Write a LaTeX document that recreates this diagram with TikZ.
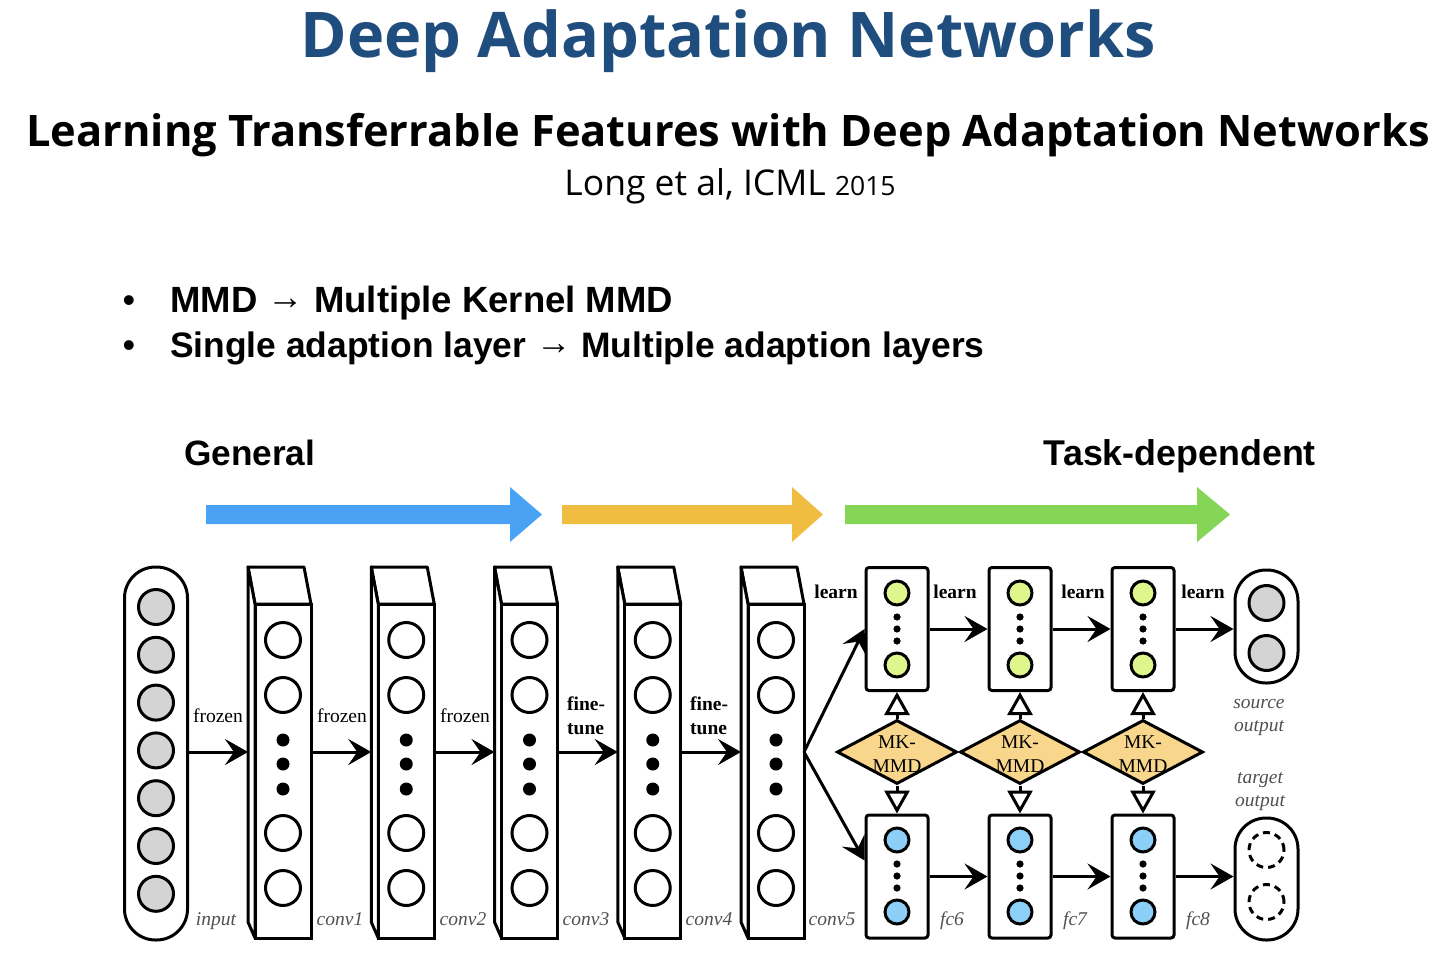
\documentclass[tikz,border=0pt]{standalone}
\usepackage{fontspec}
\setmainfont{Liberation Serif}
\newfontfamily\titlef{Open Sans}
\newfontfamily\arialf{Liberation Sans}
\newfontfamily\timesf{Liberation Serif}
\usetikzlibrary{arrows.meta,shapes.geometric,calc}
\definecolor{titleblue}{RGB}{31,78,126}
\definecolor{arrblue}{RGB}{74,162,245}
\definecolor{arryellow}{RGB}{240,189,65}
\definecolor{arrgreen}{RGB}{133,214,86}
\definecolor{nodegray}{RGB}{212,212,212}
\definecolor{nodegreen}{RGB}{222,246,140}
\definecolor{nodeblue}{RGB}{140,208,248}
\definecolor{mmdfill}{RGB}{248,214,140}
\definecolor{labgray}{RGB}{80,80,80}
\begin{document}
\begin{tikzpicture}[x=1pt,y=-1pt,
  lw/.style={line width=3pt},
  pill/.style={draw, lw, rounded corners=31pt, minimum width=63pt, inner sep=0pt},
  face/.style={draw, lw, fill=white, minimum width=56pt, minimum height=334pt, inner sep=0pt},
  fcbox/.style={draw, lw, rounded corners=3pt, minimum width=62pt, minimum height=123pt, inner sep=0pt},
  neuron/.style={circle, draw, lw, minimum size=35pt, inner sep=0pt},
  grayneuron/.style={neuron, fill=nodegray},
  smallneuron/.style={circle, draw, lw, minimum size=24pt, inner sep=0pt},
  dashneuron/.style={neuron, dash pattern=on 7pt off 5pt},
  mkmmd/.style={diamond, draw, lw, fill=mmdfill, minimum width=120pt, minimum height=64pt, inner sep=0pt},
  conn/.style={lw, -{Stealth[length=23pt,width=26pt,inset=9pt]}},
  openarr/.style={lw, -{Triangle[open, fill=white, length=23pt, width=25pt]}},
  difont/.style={font=\timesf\fontsize{19.5}{23}\selectfont},
  plainlab/.style={difont, anchor=base, inner sep=0pt},
  boldlab/.style={font=\timesf\bfseries\fontsize{19.5}{23}\selectfont, anchor=base, inner sep=0pt},
  itlab/.style={font=\timesf\itshape\fontsize{19.5}{23}\selectfont, text=labgray, anchor=base, inner sep=0pt}
]
\useasboundingbox (0,0) rectangle (1452,980);

% ---- titles ----
\node[anchor=base, inner sep=0pt, text=titleblue, font=\titlef\bfseries\fontsize{63}{70}\selectfont] (title) at (728,57) {Deep Adaptation Networks};
\node[anchor=base, inner sep=0pt, font=\titlef\bfseries\fontsize{43.4}{48}\selectfont] (subtitle) at (728,146) {Learning Transferrable Features with Deep Adaptation Networks};
\node[anchor=base, inner sep=0pt, font=\titlef\fontsize{35.5}{38}\selectfont] (authors) at (730,195) {Long et al, ICML {\fontsize{26.5}{28}\selectfont 2015}};

% ---- bullets ----
\node[anchor=base, inner sep=0pt, font=\arialf\fontsize{36}{40}\selectfont] (dot1) at (129,312) {•};
\node[anchor=base, inner sep=0pt, font=\arialf\fontsize{36}{40}\selectfont] (dot2) at (129,357) {•};
\node[anchor=base west, inner sep=0pt, font=\arialf\bfseries\fontsize{36.5}{40}\selectfont] (bul1) at (170,312) {MMD \raisebox{3pt}{→} Multiple Kernel MMD};
\node[anchor=base west, inner sep=0pt, font=\arialf\bfseries\fontsize{35.4}{40}\selectfont] (bul2) at (170,357) {Single adaption layer \raisebox{3pt}{→} Multiple adaption layers};

% ---- General / Task-dependent ----
\node[anchor=base west, inner sep=0pt, font=\arialf\bfseries\fontsize{35.2}{40}\selectfont] (gen) at (184,465) {General};
\node[anchor=base east, inner sep=0pt, font=\arialf\bfseries\fontsize{35.8}{40}\selectfont] (task) at (1316,465) {Task-dependent};

% ---- big arrows ----
\fill[arrblue] (206,505) -- (510,505) -- (510,487) -- (542,514.5) -- (510,542) -- (510,524) -- (206,524) -- cycle;
\fill[arryellow] (562,505) -- (792,505) -- (792,487) -- (823,514.5) -- (792,542) -- (792,524) -- (562,524) -- cycle;
\fill[arrgreen] (845,505) -- (1197,505) -- (1197,487) -- (1230,514.5) -- (1197,542) -- (1197,524) -- (845,524) -- cycle;

% ---- input layer ----
\node[pill, minimum height=373pt] (in) at (156,753.5) {};
\foreach \k in {0,...,6}{
  \node[grayneuron] (in\k) at (156,{607+47.8*\k}) {};
}
\coordinate (ine) at (188,752);

% ---- conv layers ----
\foreach \i in {1,...,5}{
  \pgfmathsetmacro\fl{255+123.25*(\i-1)}
  \pgfmathsetmacro\cx{\fl+28}
  \draw[lw, fill=white, line join=round] (\fl-7,567) -- (\fl+49,567) -- (\fl+56,604) -- (\fl,604) -- cycle;
  \draw[lw, fill=white, line join=round] (\fl-7,567) -- (\fl-7,922) -- (\fl,938) -- (\fl,604) -- cycle;
  \node[face] (c\i) at (\cx,771) {};
  \node[neuron] (c\i a) at (\cx,640) {};
  \node[neuron] (c\i b) at (\cx,695) {};
  \node[neuron] (c\i c) at (\cx,833) {};
  \node[neuron] (c\i d) at (\cx,888) {};
  \fill (\cx,740) circle (6.5pt) (\cx,764) circle (6.5pt) (\cx,789) circle (6.5pt);
  \coordinate (c\i w) at (\fl-7,752);
  \coordinate (c\i e) at (\fl+56,752);
}

\draw[conn] (ine) -- (c1w);
\draw[conn] (c1e) -- (c2w);
\draw[conn] (c2e) -- (c3w);
\draw[conn] (c3e) -- (c4w);
\draw[conn] (c4e) -- (c5w);

\node[plainlab] (fz1) at (218,722) {frozen};
\node[plainlab] (fz2) at (342,722) {frozen};
\node[plainlab] (fz3) at (465,722) {frozen};
\node[boldlab, anchor=base west] (ft1a) at (567,710) {fine-};
\node[boldlab, anchor=base west] (ft1b) at (567,734) {tune};
\node[boldlab, anchor=base west] (ft2a) at (690,710) {fine-};
\node[boldlab, anchor=base west] (ft2b) at (690,734) {tune};

\node[itlab] (linput) at (216,925) {input};
\node[itlab] (lc1) at (340,925) {conv1};
\node[itlab] (lc2) at (463,925) {conv2};
\node[itlab] (lc3) at (586,925) {conv3};
\node[itlab] (lc4) at (709,925) {conv4};
\node[itlab] (lc5) at (832,925) {conv5};

% ---- fc layers ----
\foreach \j/\nm in {0/6,1/7,2/8}{
  \pgfmathsetmacro\cx{897+123*\j}
  \node[fcbox] (ft\j) at (\cx,629) {};
  \node[fcbox] (fb\j) at (\cx,876.5) {};
  \node[smallneuron, fill=nodegreen] (ft\j a) at (\cx,593) {};
  \node[smallneuron, fill=nodegreen] (ft\j b) at (\cx,665) {};
  \fill (\cx,617) circle (3.6pt) (\cx,629) circle (3.6pt) (\cx,641) circle (3.6pt);
  \node[smallneuron, fill=nodeblue] (fb\j a) at (\cx,840) {};
  \node[smallneuron, fill=nodeblue] (fb\j b) at (\cx,912) {};
  \fill (\cx,864) circle (3.6pt) (\cx,876) circle (3.6pt) (\cx,888) circle (3.6pt);
  \node[mkmmd] (d\j) at (\cx,752) {};
  \node[plainlab] (d\j t1) at (\cx,748) {MK-};
  \node[plainlab] (d\j t2) at (\cx,772) {MMD};
  \draw[openarr] (d\j.north) -- (ft\j.south);
  \draw[openarr] (d\j.south) -- (fb\j.north);
  \node[itlab] (lfc\j) at ({952+123*\j},925) {fc\nm};
}

% ---- outputs ----
\node[pill, minimum height=113pt] (src) at (1266.5,626.5) {};
\node[grayneuron] (src1) at (1266.5,603) {};
\node[grayneuron] (src2) at (1266.5,653) {};
\node[pill, minimum height=122pt] (tgt) at (1266.5,879) {};
\node[dashneuron] (tgt1) at (1266.5,850) {};
\node[dashneuron] (tgt2) at (1266.5,902) {};

\node[itlab] (ls1) at (1259,708) {source};
\node[itlab] (ls2) at (1259,731) {output};
\node[itlab] (lt1) at (1260,783) {target};
\node[itlab] (lt2) at (1260,806) {output};

% ---- fc connectors ----
\draw[conn] (c5e) -- (ft0.west);
\draw[conn] (c5e) -- ([yshift=16pt]fb0.west);
\draw[conn] (ft0.east) -- (ft1.west);
\draw[conn] (ft1.east) -- (ft2.west);
\draw[conn] (ft2.east) -- (src.west |- ft2.east);
\draw[conn] (fb0.east) -- (fb1.west);
\draw[conn] (fb1.east) -- (fb2.west);
\draw[conn] (fb2.east) -- (tgt.west |- fb2.east);

\node[boldlab] (lr1) at (836,598) {learn};
\node[boldlab] (lr2) at (955,598) {learn};
\node[boldlab] (lr3) at (1083,598) {learn};
\node[boldlab] (lr4) at (1203,598) {learn};
\end{tikzpicture}
\end{document}
